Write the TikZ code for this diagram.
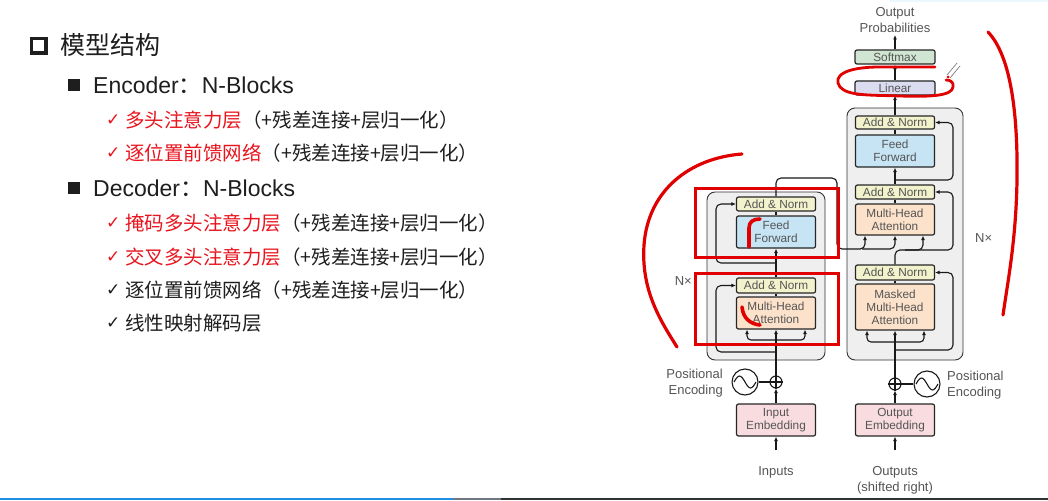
\documentclass[tikz,border=0pt]{standalone}
\usepackage{fontspec}
\newfontfamily\cjk{Noto Sans CJK SC}
\newfontfamily\dfont{Liberation Sans}
\newfontfamily\symfont{DejaVu Sans}
\usetikzlibrary{arrows.meta,calc}

\definecolor{slidered}{HTML}{E8141E}
\definecolor{inkred}{HTML}{E00000}
\definecolor{bodyink}{HTML}{1E1E1E}
\definecolor{labelgray}{HTML}{555555}
\definecolor{stackgray}{HTML}{EFEFEF}
\definecolor{anfill}{HTML}{F2F2CC}
\definecolor{fffill}{HTML}{C6E4F4}
\definecolor{attfill}{HTML}{FCE2CA}
\definecolor{embfill}{HTML}{F8DCE0}
\definecolor{linfill}{HTML}{DCDCF0}
\definecolor{smfill}{HTML}{D0E5D2}
\definecolor{barblue}{HTML}{1E8FE3}
\definecolor{bargray}{HTML}{6E7682}
\definecolor{bardark}{HTML}{323232}

\tikzset{
  item/.style={anchor=west, inner sep=0pt, font=\cjk\fontsize{19.5}{22}\selectfont, text=bodyink},
  tick/.style={anchor=west, inner sep=0pt, font=\symfont\fontsize{17}{18}\selectfont},
  layerbox/.style={draw=black!85, line width=1.2pt, rounded corners=2pt, minimum width=79pt,
    inner sep=0pt, align=center, text=labelgray, font=\dfont\fontsize{11.8}{13}\selectfont},
  stackbox/.style={draw=black!80, line width=0.9pt, fill=stackgray, rounded corners=8pt, inner sep=0pt},
  outlabel/.style={text=labelgray, inner sep=0pt, font=\dfont\fontsize{13}{16}\selectfont},
  conn/.style={draw=black!90, line width=1.1pt},
  arr/.style={conn, -{Latex[length=4.5pt,width=4pt]}},
  ink/.style={draw=inkred, line width=3.2pt, line cap=round, line join=round},
}

\begin{document}
\begin{tikzpicture}[x=1pt,y=-1pt]
\useasboundingbox (0,0) rectangle (1048,500);
\fill[white] (0,0) rectangle (1048,500);
\fill[cyan!8] (890,0) rectangle (1048,2);

% ---------- outline text ----------
\draw[line width=3.4pt, bodyink] (31.5,38.5) rectangle (46,53);
\node[item, font=\cjk\fontsize{25}{28}\selectfont] (title) at (60,45) {模型结构};

\fill[bodyink] (68,79) rectangle (80,91);
\node[item, font=\dfont\fontsize{23}{26}\selectfont] (enc) at (93,85) {Encoder{\cjk ：}N-Blocks};
\node[tick, text=slidered] (t1) at (106,120) {✓};
\node[item] (i1) at (125,120) {{\color{slidered}多头注意力层}（+残差连接+层归一化）};
\node[tick, text=slidered] (t2) at (106,153) {✓};
\node[item] (i2) at (125,153) {{\color{slidered}逐位置前馈网络}（+残差连接+层归一化）};

\fill[bodyink] (68,182) rectangle (80,194);
\node[item, font=\dfont\fontsize{23}{26}\selectfont] (dec) at (93,188) {Decoder{\cjk ：}N-Blocks};
\node[tick, text=slidered] (t3) at (106,223) {✓};
\node[item] (i3) at (125,223) {{\color{slidered}掩码多头注意力层}（+残差连接+层归一化）};
\node[tick, text=slidered] (t4) at (106,257) {✓};
\node[item] (i4) at (125,257) {{\color{slidered}交叉多头注意力层}（+残差连接+层归一化）};
\node[tick, text=bodyink] (t5) at (106,290) {✓};
\node[item] (i5) at (125,290) {逐位置前馈网络（+残差连接+层归一化）};
\node[tick, text=bodyink] (t6) at (106,323) {✓};
\node[item] (i6) at (125,323) {线性映射解码层};

% ---------- stacks ----------
\node[stackbox, minimum width=118pt, minimum height=168pt] (estack) at (766,276) {};
\node[stackbox, minimum width=116pt, minimum height=252pt] (dstack) at (905,234) {};

% ---------- encoder layers ----------
\node[layerbox, fill=anfill, minimum height=14pt] (ean2) at (776,204) {Add \& Norm};
\node[layerbox, fill=fffill, minimum height=32pt] (eff) at (776,232) {Feed\\Forward};
\node[layerbox, fill=anfill, minimum height=15pt] (ean1) at (776,285.5) {Add \& Norm};
\node[layerbox, fill=attfill, minimum height=32pt] (emha) at (776,313) {Multi-Head\\Attention};
\node[layerbox, fill=embfill, minimum height=32pt] (eemb) at (776,420) {Input\\Embedding};

% ---------- decoder layers ----------
\node[layerbox, fill=smfill, minimum height=14pt, minimum width=80pt] (soft) at (895,57) {Softmax};
\node[layerbox, fill=linfill, minimum height=14pt, minimum width=80pt] (lin) at (895,88) {Linear};
\node[layerbox, fill=anfill, minimum height=13pt] (dan3) at (895,122.5) {Add \& Norm};
\node[layerbox, fill=fffill, minimum height=32pt] (dff) at (895,151) {Feed\\Forward};
\node[layerbox, fill=anfill, minimum height=14pt] (dan2) at (895,192) {Add \& Norm};
\node[layerbox, fill=attfill, minimum height=31pt] (dmha) at (895,219.5) {Multi-Head\\Attention};
\node[layerbox, fill=anfill, minimum height=15pt] (dan1) at (895,272.5) {Add \& Norm};
\node[layerbox, fill=attfill, minimum height=46pt] (dmmha) at (895,307) {Masked\\Multi-Head\\Attention};
\node[layerbox, fill=embfill, minimum height=32pt] (demb) at (895,420) {Output\\Embedding};

% ---------- positional encodings ----------
\node[circle, draw=black!90, line width=1.1pt, minimum size=26pt, inner sep=0pt] (epos) at (745,382) {};
\node[circle, draw=black!90, line width=1.1pt, minimum size=12pt, inner sep=0pt] (eplus) at (776,382) {};
\node[circle, draw=black!90, line width=1.1pt, minimum size=26pt, inner sep=0pt] (dpos) at (927,384) {};
\node[circle, draw=black!90, line width=1.1pt, minimum size=12pt, inner sep=0pt] (dplus) at (895,384) {};
\foreach \c in {epos,dpos}
  \draw[conn] ([xshift=-11pt]\c.center) sin ++(5.5,-6) cos ++(5.5,6) sin ++(5.5,6) cos ++(5.5,-6);
\foreach \c in {eplus,dplus}
  \draw[conn] (\c.north) -- (\c.south) (\c.west) -- (\c.east);
\draw[conn] (epos.east) -- (eplus.west);
\draw[conn] (dplus.east) -- (dpos.west);

% ---------- labels ----------
\node[outlabel, align=center] (outp) at (895,20) {Output\\Probabilities};
\node[outlabel, align=right, anchor=east] (epl) at (723,383) {Positional\\Encoding};
\node[outlabel, align=left, anchor=west] (dpl) at (947,385) {Positional\\Encoding};
\node[outlabel] (inl) at (776,472) {Inputs};
\node[outlabel, align=center] (outl) at (895,480) {Outputs\\(shifted right)};
\node[outlabel, anchor=east] (enx) at (692,281) {N×};
\node[outlabel, anchor=west] (dnx) at (975,238) {N×};

\coordinate (inA) at (776,450);
\coordinate (outA) at (895,450);
\coordinate (probA) at (895,35);

% ---------- encoder connectors ----------
\draw[arr] (inA) -- (eemb.south);
\draw[arr] (eemb.north) -- (eplus.south);
\draw[arr] (eplus.north) -- (emha.south);
\coordinate (ej) at (776,340);
\draw[arr, rounded corners=4pt] (ej) -| ([xshift=-29pt]emha.south);
\draw[arr, rounded corners=4pt] (ej) -| ([xshift=29pt]emha.south);
\coordinate (er1) at (776,352);
\draw[arr, rounded corners=5pt] (er1) -- ++(-60,0) |- (ean1.west);
\draw[conn] (emha.north) -- (ean1.south);
\draw[arr] (ean1.north) -- (eff.south);
\coordinate (er2) at (776,263);
\draw[arr, rounded corners=5pt] (er2) -- ++(-60,0) |- (ean2.west);
\draw[conn] (eff.north) -- (ean2.south);

% encoder output into the cross attention
\coordinate (eo) at (776,178);
\draw[arr, rounded corners=5pt] (ean2.north) -- (eo) -- (837,178) -- (837,249) -| ([xshift=-30pt]dmha.south);
\draw[arr, rounded corners=5pt] (862,249) -| (dmha.south);

% ---------- decoder connectors ----------
\draw[arr] (outA) -- (demb.south);
\draw[arr] (demb.north) -- (dplus.south);
\draw[arr] (dplus.north) -- (dmmha.south);
\coordinate (dj) at (895,342);
\draw[arr, rounded corners=4pt] (dj) -| ([xshift=-28pt]dmmha.south);
\draw[arr, rounded corners=4pt] (dj) -| ([xshift=29pt]dmmha.south);
\coordinate (dr1) at (895,350);
\draw[arr, rounded corners=5pt] (dr1) -- ++(58,0) |- (dan1.east);
\draw[conn] (dmmha.north) -- (dan1.south);

\coordinate (dq) at (895,250);
\draw[arr, rounded corners=5pt] (dan1.north) -- (dq) -- (953,250) |- (dan2.east);
\draw[arr, rounded corners=5pt] (905,250) -| ([xshift=28pt]dmha.south);
\draw[conn] (dmha.north) -- (dan2.south);
\draw[arr] (dan2.north) -- (dff.south);
\coordinate (dr3) at (895,180);
\draw[arr, rounded corners=5pt] (dr3) -- ++(58,0) |- (dan3.east);
\draw[conn] (dff.north) -- (dan3.south);
\draw[arr] (dan3.north) -- (lin.south);
\draw[arr] (lin.north) -- (soft.south);
\draw[arr] (soft.north) -- (probA);

% ---------- hand-drawn marks ----------
\draw[draw=inkred, line width=3pt] (695,188) rectangle (838,257);
\draw[draw=inkred, line width=3pt] (695,273) rectangle (838,344);
\draw[ink, line width=3.6pt] (749,247) -- (749,228) .. controls (749,222) and (753,219) .. (760,219);
\draw[ink, line width=3.6pt] (742,307) .. controls (743,318) and (750,324) .. (760,325);
\draw[ink] (742,154) .. controls (690,158) and (648,190) .. (644,245)
           .. controls (641,290) and (660,320) .. (677,347);
\draw[ink] (988,32) .. controls (1010,55) and (1018,110) .. (1017,180)
           .. controls (1016,240) and (1008,280) .. (1003,315);
\draw[ink, line width=2.8pt] (935,67) -- (880,67) .. controls (845,67) and (832,76) .. (840,87)
           .. controls (848,96) and (870,95) .. (900,96)
           .. controls (930,97) and (952,96) .. (953,87)
           .. controls (954,82) and (950,80) .. (946,80);
\draw[gray, line width=0.7pt] (957,63) -- (947,75) (960,66) -- (950,78);
\fill[inkred] (948,77) circle (1.5);

% ---------- playback bar ----------
\fill[barblue] (0,498) rectangle (453,500);
\fill[bargray] (453,498) rectangle (501,500);
\fill[bardark] (501,498) rectangle (1048,500);
\end{tikzpicture}
\end{document}
